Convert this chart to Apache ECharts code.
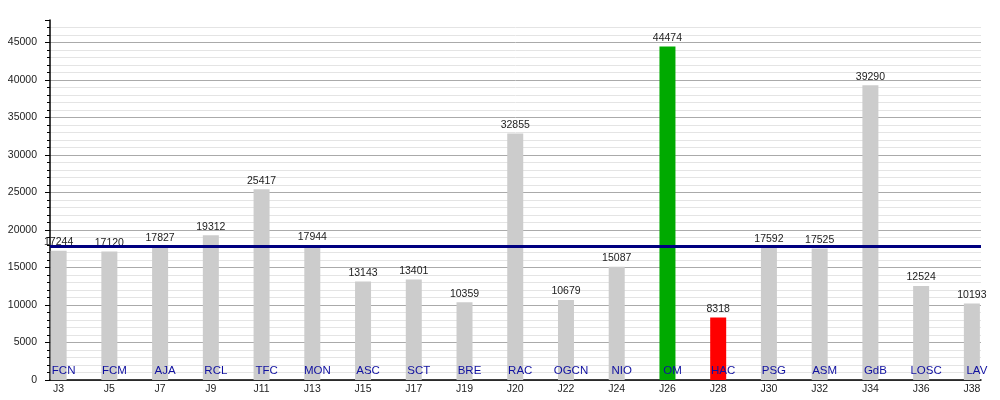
<!DOCTYPE html>
<html>
<head>
<meta charset="utf-8">
<script src="https://cdn.jsdelivr.net/npm/echarts@6/dist/echarts.min.js"></script>
<style>html,body{margin:0;padding:0;background:#fff}#c{width:1000px;height:400px}</style>
</head>
<body>
<div id="c"></div>
<script>
const rounds = ['J3','J5','J7','J9','J11','J13','J15','J17','J19','J20','J22','J24','J26','J28','J30','J32','J34','J36','J38'];
const teams = ['FCN','FCM','AJA','RCL','TFC','MON','ASC','SCT','BRE','RAC','OGCN','NIO','OM','HAC','PSG','ASM','GdB','LOSC','LAV'];
const attendance = [17244,17120,17827,19312,25417,17944,13143,13401,10359,32855,10679,15087,44474,8318,17592,17525,39290,12524,10193];
const averageLine = 17880;
const yTicks = [0,5000,10000,15000,20000,25000,30000,35000,40000,45000];

const FONT = '"Liberation Sans", Arial, sans-serif';
const idx = rounds.map((_, i) => i);
const barData = attendance.map((v, i) => [i, v]);

function barColor(p) {
  const t = teams[p.dataIndex];
  if (t === 'OM') return '#00aa00';
  if (t === 'HAC') return '#ff0000';
  return '#cccccc';
}

const chart = echarts.init(document.getElementById('c'), null, {renderer: 'canvas'});
chart.setOption({
  animation: false,
  grid: {left: 50, right: 19, top: 20, bottom: 20, containLabel: false},
  xAxis: {
    type: 'value', min: -0.17, max: 18.18,
    splitLine: {show: false},
    axisTick: {show: false},
    axisLine: {show: true, onZero: false, lineStyle: {color: '#000', width: 1.5}},
    axisLabel: {
      customValues: idx,
      formatter: v => rounds[Math.round(v)] || '',
      color: '#222', fontFamily: FONT, fontSize: 10.5, margin: 4
    }
  },
  yAxis: {
    type: 'value', min: 0, max: 48000, interval: 5000,
    axisLine: {show: true, onZero: false, lineStyle: {color: '#000', width: 1.5}},
    axisTick: {show: true, length: 5, lineStyle: {color: '#000'}},
    minorTick: {show: true, splitNumber: 5, length: 3, lineStyle: {color: '#000'}},
    splitLine: {show: true, showMaxLine: false, lineStyle: {color: '#aaaaaa', width: 1}},
    minorSplitLine: {show: true, lineStyle: {color: '#e4e4e4', width: 1}},
    axisLabel: {
      customValues: yTicks,
      formatter: v => String(v),
      color: '#222', fontFamily: FONT, fontSize: 10.5, margin: 13
    }
  },
  series: [
    {
      type: 'bar',
      data: barData,
      barWidth: 16,
      itemStyle: {color: barColor},
      label: {
        show: true, position: 'top', distance: 3,
        color: '#222', fontFamily: FONT, fontSize: 10.5,
        formatter: p => String(p.value[1])
      }
    },
    {
      type: 'bar',
      data: barData,
      barWidth: 16,
      barGap: '-100%',
      itemStyle: {color: 'rgba(0,0,0,0)'},
      label: {
        show: true, position: 'insideBottom', distance: 3, offset: [5, 0],
        color: '#1010a0', fontFamily: FONT, fontSize: 11.5,
        formatter: p => teams[p.dataIndex]
      },
      markLine: {
        silent: true, symbol: 'none',
        label: {show: false},
        lineStyle: {color: '#000080', width: 3, type: 'solid'},
        data: [{yAxis: averageLine}]
      }
    }
  ]
});
</script>
</body>
</html>
